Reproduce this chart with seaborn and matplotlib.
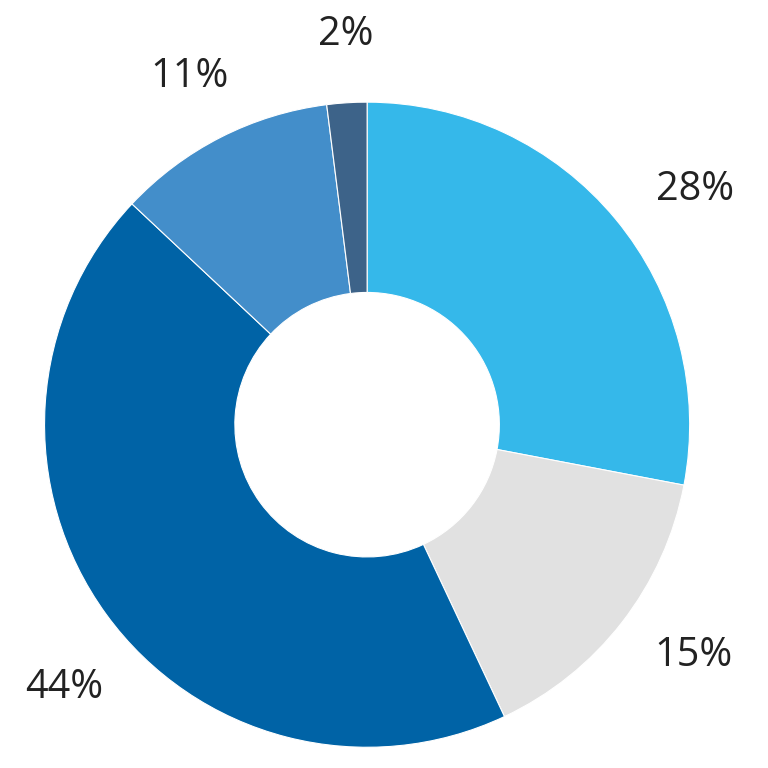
import matplotlib
matplotlib.use("Agg")
import numpy as np
import matplotlib.pyplot as plt
import seaborn as sns

sns.set_style("white")
plt.rcParams['font.family'] = ['Open Sans', 'DejaVu Sans']

# shares, clockwise from 12 o'clock
values = [28, 15, 44, 11, 2]
labels = ["28%", "15%", "44%", "11%", "2%"]
colors = ["#35B8EA", "#E1E1E1", "#0063A6", "#438ECA", "#3D6389"]

# small nudges of the labels away from the wedge middle (degrees) and radius
label_shift = [-4, 2.5, 5, 0, -0.5]
label_dist = [1.25, 1.24, 1.245, 1.21, 1.21]

fig = plt.figure(figsize=(7.68, 7.68), dpi=100)
ax = fig.add_axes([0.058, 0.027, 0.84, 0.84])

wedges, _ = ax.pie(values, colors=colors, startangle=90, counterclock=False,
                   wedgeprops=dict(width=0.59, edgecolor="white", linewidth=0.8))

for w, lab, sh, d in zip(wedges, labels, label_shift, label_dist):
    ang = np.deg2rad((w.theta1 + w.theta2) / 2 + sh)
    ax.text(d * np.cos(ang), d * np.sin(ang), lab, ha="center", va="center",
            fontsize=28.5, color="#222222", clip_on=False)

ax.set_xlim(-1, 1)
ax.set_ylim(-1, 1)
ax.set_aspect("equal")
ax.axis("off")

fig.savefig("out.png", dpi=100)
